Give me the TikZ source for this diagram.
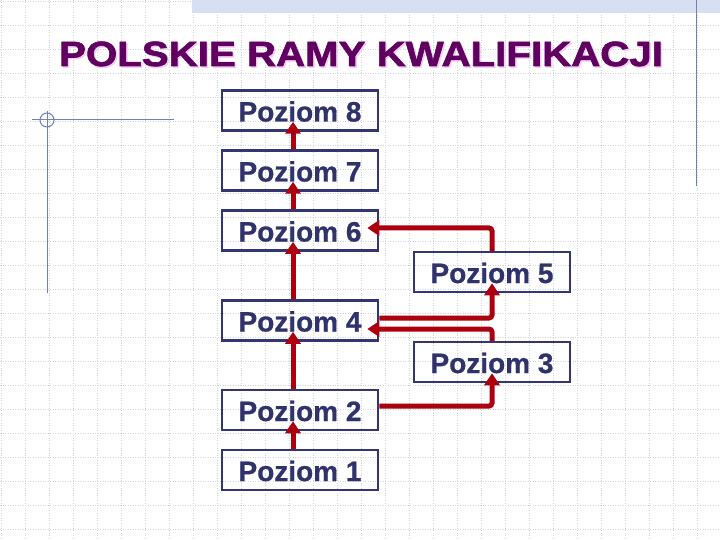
\documentclass[tikz,border=0pt]{standalone}
\usepackage{fontspec}
\setmainfont{Liberation Sans}
\newfontfamily\titlefont[UprightFont={* Bold},FakeBold=1.8,FakeStretch=1.15]{Liberation Sans}
\newfontfamily\boxfont[UprightFont={* Bold},FakeBold=0.8]{Liberation Sans}
\usetikzlibrary{arrows.meta,calc}
\definecolor{gridc}{RGB}{208,210,222}
\definecolor{navy}{RGB}{52,54,115}
\definecolor{navytext}{RGB}{48,50,108}
\definecolor{titlec}{RGB}{96,0,96}
\definecolor{shadowc}{RGB}{242,204,242}
\definecolor{arrc}{RGB}{172,0,14}
\definecolor{decoc}{RGB}{112,128,184}
\definecolor{bandc}{RGB}{214,224,242}
\tikzset{
  levelbox/.style={draw=navy, line width=2.5pt, minimum width=156pt, minimum height=40pt,
    inner sep=0pt, text=navytext, font=\boxfont\fontsize{28}{30}\selectfont, text height=22pt, text depth=0pt},
  arr/.style={draw=arrc, line width=5pt, rounded corners=3pt, -{Triangle[width=15pt,length=12pt]}},
  deco/.style={draw=decoc, line width=1pt}
}
\begin{document}
\begin{tikzpicture}[x=1pt,y=-1pt]
\useasboundingbox (0,0) rectangle (720,540);
\fill[white] (0,0) rectangle (720,540);
% grid
\foreach \k in {0,...,29} \draw[gridc, line width=0.6pt, dash pattern=on 1pt off 1.5pt] (1+24*\k,0) -- (1+24*\k,540);
\foreach \k in {0,...,22} \draw[gridc, line width=0.6pt, dash pattern=on 1pt off 1.5pt] (0,1+24*\k) -- (720,1+24*\k);
% top band
\fill[bandc] (192,0) rectangle (720,13);
% decorations
\draw[deco] (696,0) -- (696,186);
\draw[deco] (32,120) -- (174,120);
\draw[deco] (47,111) -- (47,293);
\draw[deco] (47,120) circle (7);
% title with shadow
\node[anchor=base, text=shadowc, font=\titlefont\fontsize{35}{40}\selectfont] (titleshadow) at (362.5,67.5) {POLSKIE RAMY KWALIFIKACJI};
\node[anchor=base, text=titlec, font=\titlefont\fontsize{35}{40}\selectfont] (title) at (361,66) {POLSKIE RAMY KWALIFIKACJI};
% boxes
\node[levelbox] (b8) at (300,110.5) {Poziom 8};
\node[levelbox] (b7) at (300,170.5) {Poziom 7};
\node[levelbox] (b6) at (300,230.5) {Poziom 6};
\node[levelbox] (b4) at (300,320.5) {Poziom 4};
\node[levelbox] (b2) at (300,410) {Poziom 2};
\node[levelbox] (b1) at (300,470) {Poziom 1};
\node[levelbox] (b5) at (492,272) {Poziom 5};
\node[levelbox] (b3) at (492,362) {Poziom 3};
% arrows
\draw[arr] ([xshift=-7pt]b7.north) -- ([xshift=-7pt,yshift=10pt]b8.south);
\draw[arr] ([xshift=-7pt]b6.north) -- ([xshift=-7pt,yshift=10pt]b7.south);
\draw[arr] ([xshift=-7pt]b4.north) -- ([xshift=-7pt,yshift=10pt]b6.south);
\draw[arr] ([xshift=-7pt]b2.north) -- ([xshift=-7pt,yshift=10pt]b4.south);
\draw[arr] ([xshift=-7pt]b1.north) -- ([xshift=-7pt,yshift=10pt]b2.south);
\draw[arr] ([yshift=2.5pt]b4.east) -| ([yshift=10pt]b5.south);
\draw[arr] (b5.north) |- ([xshift=-12pt,yshift=2.5pt]b6.east);
\draw[arr] (b3.north) |- ([xshift=-12pt,yshift=-8.5pt]b4.east);
\draw[arr] ([yshift=4pt]b2.east) -| ([yshift=10pt]b3.south);
\end{tikzpicture}
\end{document}
